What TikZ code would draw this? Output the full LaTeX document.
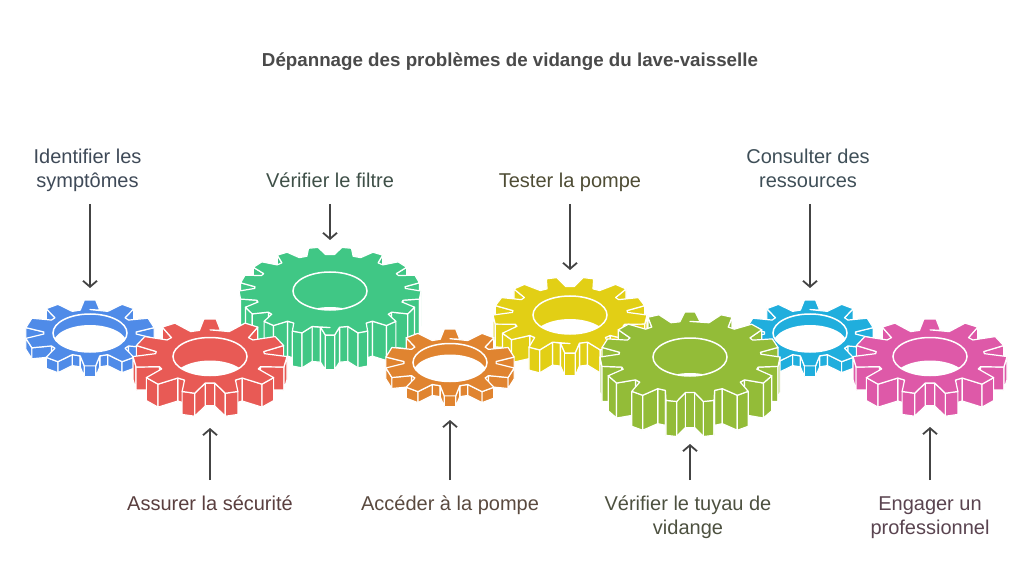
\documentclass[tikz,border=0pt]{standalone}
\usepackage{fontspec}
\setmainfont{Liberation Sans}
\usetikzlibrary{arrows.meta}
\definecolor{gblue}{HTML}{4F8BE8}
\definecolor{gred}{HTML}{E85A55}
\definecolor{ggreen}{HTML}{40C785}
\definecolor{gorange}{HTML}{E08430}
\definecolor{gyellow}{HTML}{E2CF15}
\definecolor{glime}{HTML}{93BC38}
\definecolor{gcyan}{HTML}{20AEDD}
\definecolor{gmagenta}{HTML}{DE59A8}
\definecolor{arrowgrey}{HTML}{444444}
\definecolor{titlegrey}{HTML}{4A4A4A}
\definecolor{HexA}{HTML}{3F4A58}
\definecolor{HexB}{HTML}{5A3F3F}
\definecolor{HexC}{HTML}{3F5048}
\definecolor{HexD}{HTML}{5A4A3F}
\definecolor{HexE}{HTML}{4F4D35}
\definecolor{HexF}{HTML}{4D5140}
\definecolor{HexG}{HTML}{3F4F58}
\definecolor{HexH}{HTML}{5A4450}
\tikzset{
  gearface/.style={draw=white,line width=1.2pt,line join=round},
  gearhole/.style={draw=white,line width=1.5pt},
  gearnode/.style={inner sep=0pt,outer sep=0pt,draw=none,fill=none},
  arrowline/.style={draw=arrowgrey,line width=1.8pt,-{Straight Barb[length=6pt,width=14pt,line width=1.8pt]}},
  toplabel/.style={anchor=south,inner sep=0pt,outer sep=0pt,align=center,font=\fontsize{20}{24}\selectfont},
  botlabel/.style={anchor=north,inner sep=0pt,outer sep=0pt,align=center,font=\fontsize{20}{24}\selectfont},
  titlelabel/.style={inner sep=0pt,font=\fontsize{18.75}{24}\selectfont\bfseries,text=titlegrey},
}
\newcommand\topstrut{\rule[-16.5pt]{0pt}{1pt}}
\newcommand\botstrut{\rule{0pt}{30.7pt}}
% half widths (degrees) of a tooth at its tip and at its root, wider on the sides of the ellipse
\newcommand\gearhalf[1]{%
  \pgfmathsetmacro\grCC{cos(#1)*cos(#1)}%
  \pgfmathsetmacro\grTh{\grSt*(0.14+0.11*\grCC)}%
  \pgfmathsetmacro\grRh{\grSt*(0.34+0.10*\grCC)}}
% one wall of the extruded gear, drawn only when it faces the viewer
\newcommand\gearwall[4]{%
  \pgfmathsetmacro\grXa{\grCx+\grRx*(#2)*cos(#1)}%
  \pgfmathsetmacro\grYa{\grCy-\grRy*(#2)*sin(#1)}%
  \pgfmathsetmacro\grXb{\grCx+\grRx*(#4)*cos(#3)}%
  \pgfmathsetmacro\grYb{\grCy-\grRy*(#4)*sin(#3)}%
  \ifdim\grXa pt<\grXb pt\relax
    \filldraw[gearface,fill=\grCol] (\grXa,\grYa) -- (\grXb,\grYb) -- (\grXb,\grYb+\grD) -- (\grXa,\grYa+\grD) -- cycle;
  \fi}
% name, cx, cy, rx, ry, depth, teeth, start angle, colour ; gap set by \grGap
\newcommand\gear[9]{%
  \def\grCx{#2}\def\grCy{#3}\def\grRx{#4}\def\grRy{#5}\def\grD{#6}\def\grN{#7}\def\grS{#8}\def\grCol{#9}%
  \pgfmathsetmacro\grSt{360/\grN}%
  \pgfmathsetmacro\grR{max(0.71,0.71+(\grN-11)*0.02)}%
  \pgfmathtruncatemacro\grLast{\grN-1}%
  \pgfmathtruncatemacro\grM{floor(\grN/2)}%
  % root walls first
  \foreach \k in {0,...,\grLast}{%
    \pgfmathsetmacro\grA{\grS+\k*\grSt}%
    \pgfmathsetmacro\grB{\grA+\grSt}%
    \gearhalf{\grA}\let\grRhA\grRh
    \gearhalf{\grB}\let\grRhB\grRh
    \gearwall{\grA+\grRhA}{\grR}{\grB-\grRhB}{\grR}%
  }%
  % tooth walls, from the back to the front
  \foreach \j in {0,...,\grM}{%
    \pgfmathtruncatemacro\jj{sin(\grS)>0 ? \j : \grM-\j}%
    \foreach \sg in {-1,1}{%
      \pgfmathsetmacro\grA{\grS+\sg*\jj*\grSt}%
      \gearhalf{\grA}%
      \gearwall{\grA-\grRh}{\grR}{\grA-\grTh}{1}%
      \gearwall{\grA-\grTh}{1}{\grA+\grTh}{1}%
      \gearwall{\grA+\grTh}{1}{\grA+\grRh}{\grR}%
    }%
  }%
  % top face
  \filldraw[gearface,fill=#9]
    ({\grCx+\grRx*\grR*cos(\grS)},{\grCy-\grRy*\grR*sin(\grS)})
    \foreach \k [evaluate=\k as \ga using \grS+\k*\grSt,
                 evaluate=\k as \gc using cos(\ga)*cos(\ga),
                 evaluate=\k as \gt using \grSt*(0.14+0.11*\gc),
                 evaluate=\k as \gr using \grSt*(0.34+0.10*\gc)] in {0,...,\grLast}{
      -- ({\grCx+\grRx*\grR*cos(\ga-\gr)},{\grCy-\grRy*\grR*sin(\ga-\gr)})
      -- ({\grCx+\grRx*cos(\ga-\gt)},{\grCy-\grRy*sin(\ga-\gt)})
      -- ({\grCx+\grRx*cos(\ga+\gt)},{\grCy-\grRy*sin(\ga+\gt)})
      -- ({\grCx+\grRx*\grR*cos(\ga+\gr)},{\grCy-\grRy*\grR*sin(\ga+\gr)})
    } -- cycle;
  % hole with the view through it
  \begin{scope}
    \clip (#2,#3) ellipse [x radius=37,y radius=19];
    \fill[white] (#2,#3+#6) ellipse [x radius=37,y radius=19];
  \end{scope}
  \draw[gearhole] (#2,#3) ellipse [x radius=37,y radius=19];
  % invisible node whose box carries the arrow ends
  \pgfmathsetmacro\grH{2*#5+#6+2*\grGap}%
  \node[gearnode,minimum width=2*#4,minimum height=\grH] (#1) at (#2,#3+#6/2) {};
}
\begin{document}
\begin{tikzpicture}[x=1pt,y=-1pt]
\useasboundingbox (0,0) rectangle (1033,561);
\fill[white] (0,0) rectangle (1033,561);
\node[titlelabel] (title) at (510,62) {Dépannage des problèmes de vidange du lave-vaisselle};

\def\grGap{12}
\gear{gearA}{90}{333}{65}{33}{11}{10}{90}{gblue}
\def\grGap{7}
\gear{gearC}{330}{291}{91}{44}{35}{17}{270}{ggreen}
\gear{gearE}{570}{315}{77}{38}{23}{13}{270}{gyellow}
\def\grGap{12}
\gear{gearG}{810}{333}{64}{33}{11}{10}{90}{gcyan}
\def\grGap{11}
\gear{gearB}{210}{356.5}{77}{37.5}{23}{11}{90}{gred}
\def\grGap{13}
\gear{gearD}{450}{362.5}{65}{33.5}{11}{10}{90}{gorange}
\def\grGap{7}
\gear{gearF}{690}{357}{90}{45}{35}{15}{90}{glime}
\def\grGap{10}
\gear{gearH}{930}{356.5}{77}{37.5}{23}{11}{90}{gmagenta}

\node[toplabel,text=HexA] (labelA) at (87.5,204) {Identifier les\\symptômes\topstrut};
\node[botlabel,text=HexB] (labelB) at (210,480) {\botstrut Assurer la sécurité};
\node[toplabel,text=HexC] (labelC) at (330,204) {Vérifier le filtre\topstrut};
\node[botlabel,text=HexD] (labelD) at (450,480) {\botstrut Accéder à la pompe};
\node[toplabel,text=HexE] (labelE) at (570,204) {Tester la pompe\topstrut};
\node[botlabel,text=HexF] (labelF) at (688,480) {\botstrut Vérifier le tuyau de\\vidange};
\node[toplabel,text=HexG] (labelG) at (808,204) {Consulter des\\ressources\topstrut};
\node[botlabel,text=HexH] (labelH) at (930,480) {\botstrut Engager un\\professionnel};

\draw[arrowline] (gearA.north |- labelA.south) -- (gearA.north);
\draw[arrowline] (gearB.south |- labelB.north) -- (gearB.south);
\draw[arrowline] (gearC.north |- labelC.south) -- (gearC.north);
\draw[arrowline] (gearD.south |- labelD.north) -- (gearD.south);
\draw[arrowline] (gearE.north |- labelE.south) -- (gearE.north);
\draw[arrowline] (gearF.south |- labelF.north) -- (gearF.south);
\draw[arrowline] (gearG.north |- labelG.south) -- (gearG.north);
\draw[arrowline] (gearH.south |- labelH.north) -- (gearH.south);
\end{tikzpicture}
\end{document}
